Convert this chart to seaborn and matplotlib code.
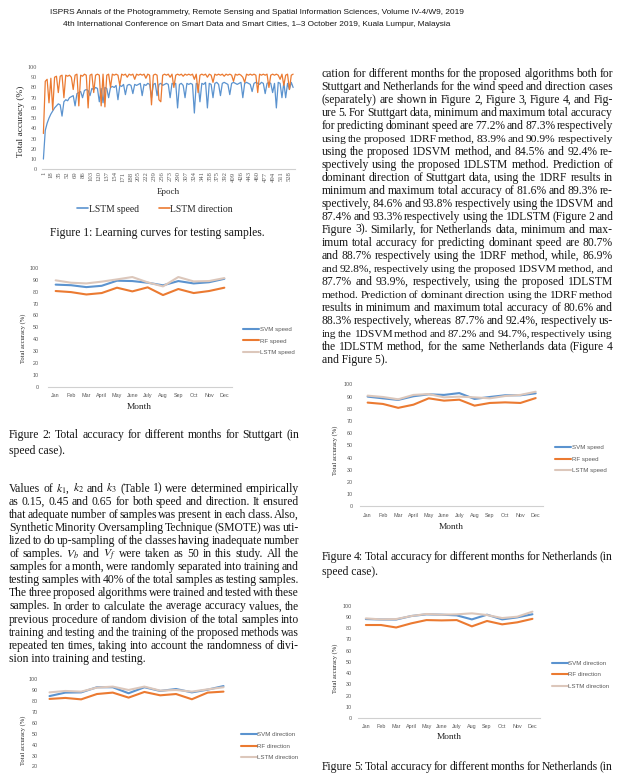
import numpy as np
import pandas as pd
import seaborn as sns
import matplotlib.pyplot as plt

sns.set_style("white")
plt.rcParams["font.family"] = ["Liberation Serif", "DejaVu Serif"]
plt.rcParams["mathtext.fontset"] = "stix"

W, H = 631, 777
SERIF = "Liberation Serif"
SANS = "Liberation Sans"
GRAY = "#595959"
BLUE, ORANGE, BEIGE = "#5B93CF", "#EB7A31", "#DCC7BB"
BODY = 8.4

# ---- data ----
months = ["Jan", "Feb", "Mar", "April", "May", "June", "July", "Aug", "Sep", "Oct", "Nov", "Dec"]

stut_speed_svm = [86, 85.5, 83.9, 85, 89.3, 89, 87.6, 85.4, 89, 87, 88, 90.9]
stut_speed_rf = [80.6, 79.7, 77.7, 78.9, 83.4, 80.3, 83.7, 77.2, 82.3, 78.9, 80.6, 83.4]
stut_speed_lstm = [89.6, 87.6, 87, 88.5, 90.4, 92.4, 87.9, 84.5, 92.4, 88.7, 89, 91.5]

stut_dir_svm = [84.6, 87.8, 88, 92.7, 92.7, 87.2, 92.7, 89.3, 91.1, 88, 90.5, 93.8]
stut_dir_rf = [82, 82.9, 81.6, 86.5, 87.8, 83.2, 88.4, 85.3, 86.5, 81.7, 87.8, 88.7]
stut_dir_lstm = [88, 89.3, 88.7, 92.4, 93.3, 90.2, 93.3, 89.6, 90.2, 88.7, 90.8, 92.7]

neth_speed_svm = [89.9, 88.5, 87.2, 90.2, 91.8, 91.3, 92.8, 88, 89.6, 91, 91, 92.6]
neth_speed_rf = [85, 83.9, 80.7, 83.3, 88.5, 86.6, 87.4, 82.5, 84.7, 85.2, 84.7, 88.7]
neth_speed_lstm = [90.7, 89.6, 87.7, 91.3, 92, 89.3, 89.9, 89.3, 88.5, 90.4, 91.3, 93.9]

neth_dir_svm = [88.1, 87.7, 87.7, 90.8, 92.3, 92, 91.4, 87.8, 92, 87.8, 89.6, 92.4]
neth_dir_rf = [82.8, 82.8, 80.6, 84.3, 87.2, 86.9, 87.2, 81.6, 86.4, 83.4, 85.2, 88.3]
neth_dir_lstm = [88.7, 87.8, 88.1, 90.8, 92.6, 92, 92.3, 93.2, 91.7, 89, 90.2, 94.7]

# learning curves, one reading every 4 epochs
epochs = np.arange(1, 538, 4)
lstm_speed_curve = [
    10, 38, 45, 50, 54, 57, 60, 62, 64, 63, 52, 66, 68, 67, 70,
    71, 72, 62, 74, 75, 76, 70, 77, 78, 77, 72, 79, 78, 80, 79,
    66, 79, 65, 80, 79, 70, 80, 81, 80, 82, 68, 82, 81, 83, 73,
    82, 83, 82, 74, 83, 82, 83, 84, 72, 83, 82, 84, 83, 70, 83,
    84, 72, 83, 84, 82, 83, 84, 83, 70, 84, 83, 84, 60, 83, 84,
    82, 70, 84, 83, 84, 83, 55, 84, 83, 66, 84, 83, 85, 60, 84,
    83, 70, 84, 85, 83, 72, 84, 85, 84, 83, 73, 84, 85, 84, 83,
    84, 85, 70, 84, 85, 84, 83, 76, 84, 85, 84, 83, 85, 84, 74,
    84, 85, 84, 75, 84, 60, 85, 84, 70, 85, 70, 84, 78, 85, 80,
]
lstm_dir_curve = [
    35, 86, 88, 65, 89, 58, 90, 91, 75, 91, 92, 70, 92, 91, 92,
    90, 78, 92, 93, 62, 92, 91, 93, 92, 60, 92, 93, 75, 92, 93,
    92, 62, 93, 61, 92, 93, 80, 93, 92, 93, 92, 82, 93, 92, 93,
    90, 93, 92, 93, 88, 93, 92, 93, 92, 93, 89, 93, 92, 63, 92,
    93, 92, 68, 66, 92, 93, 92, 93, 90, 93, 80, 92, 93, 92, 93,
    91, 93, 92, 93, 92, 93, 88, 93, 75, 92, 93, 92, 93, 90, 93,
    92, 85, 93, 92, 93, 92, 93, 91, 93, 92, 93, 92, 86, 93, 92,
    93, 92, 90, 85, 93, 92, 93, 92, 93, 92, 75, 93, 92, 93, 92,
    93, 80, 92, 93, 92, 93, 92, 88, 93, 82, 92, 93, 78, 92, 93,
]
epoch_ticks = list(range(1, 529, 17))

right_text = [
    "cation for different months for the proposed algorithms both for",
    "Stuttgart and Netherlands for the wind speed and direction cases",
    "(separately) are shown in Figure 2, Figure 3, Figure 4, and Fig-",
    "ure 5. For Stuttgart data, minimum and maximum total accuracy",
    "for predicting dominant speed are 77.2% and 87.3% respectively",
    "using the proposed 1DRF method, 83.9% and 90.9% respectively",
    "using the proposed 1DSVM method, and 84.5% and 92.4% re-",
    "spectively using the proposed 1DLSTM method. Prediction of",
    "dominant direction of Stuttgart data, using the 1DRF results in",
    "minimum and maximum total accuracy of 81.6% and 89.3% re-",
    "spectively, 84.6% and 93.8% respectively using the 1DSVM and",
    "87.4% and 93.3% respectively using the 1DLSTM (Figure 2 and",
    "Figure 3). Similarly, for Netherlands data, minimum and max-",
    "imum total accuracy for predicting dominant speed are 80.7%",
    "and 88.7% respectively using the 1DRF method, while, 86.9%",
    "and 92.8%, respectively using the proposed 1DSVM method, and",
    "87.7% and 93.9%, respectively, using the proposed 1DLSTM",
    "method. Prediction of dominant direction using the 1DRF method",
    "results in minimum and maximum total accuracy of 80.6% and",
    "88.3% respectively, whereas 87.7% and 92.4%, respectively us-",
    "ing the 1DSVM method and 87.2% and 94.7%, respectively using",
    "the 1DLSTM method, for the same Netherlands data (Figure 4",
    "and Figure 5).",
]
left_text = [
    r"Values of $k_1$, $k_2$ and $k_3$ (Table 1) were determined empirically",
    "as 0.15, 0.45 and 0.65 for both speed and direction. It ensured",
    "that adequate number of samples was present in each class. Also,",
    "Synthetic Minority Oversampling Technique (SMOTE) was uti-",
    "lized to do up-sampling of the classes having inadequate number",
    r"of samples. $V_b$ and $V_f$ were taken as 50 in this study. All the",
    "samples for a month, were randomly separated into training and",
    "testing samples with 40% of the total samples as testing samples.",
    "The three proposed algorithms were trained and tested with these",
    "samples. In order to calculate the average accuracy values, the",
    "previous procedure of random division of the total samples into",
    "training and testing and the training of the proposed methods was",
    "repeated ten times, taking into account the randomness of divi-",
    "sion into training and testing.",
]

fig = plt.figure(figsize=(W / 100, H / 100), dpi=100)
rend = fig.canvas.get_renderer()


def put(x, y, s, size, family=SERIF, **kw):
    kw.setdefault("va", "baseline")
    kw.setdefault("color", "#161616")
    return fig.text(x / W, 1 - y / H, s, fontsize=size, family=family, **kw)


def fit(t, length, vertical=False):
    bb = t.get_window_extent(rend)
    cur = bb.height if vertical else bb.width
    t.set_fontsize(t.get_fontsize() * length / cur)
    return t


def paragraph(lines, x0, x1, y0, step, size=BODY, last_full=False, min_gap=1.7):
    for k, line in enumerate(lines):
        y = y0 + k * step
        if k == len(lines) - 1 and not last_full:
            put(x0, y, line, size)
            continue
        words = line.split(" ")
        objs = [put(x0, y, w, size) for w in words]
        widths = [o.get_window_extent(rend).width for o in objs]
        gap = (x1 - x0 - sum(widths)) / (len(words) - 1)
        if gap < min_gap:
            # squeeze an over-long line a little, as TeX would
            scale = (x1 - x0 - min_gap * (len(words) - 1)) / sum(widths)
            for o in objs:
                o.set_fontsize(size * scale)
            widths = [w * scale for w in widths]
            gap = min_gap
        x = x0
        for o, wd in zip(objs, widths):
            o.set_x(x / W)
            x += wd + gap


def box(x0, y0, x1, y1):
    return fig.add_axes([x0 / W, 1 - y1 / H, (x1 - x0) / W, (y1 - y0) / H])


def clean(ax):
    for s in ["top", "right", "left"]:
        ax.spines[s].set_visible(False)
    ax.spines["bottom"].set_color("#D0D0D0")
    ax.spines["bottom"].set_linewidth(0.8)
    ax.set_ylim(0, 100)
    ax.set_yticks(range(0, 101, 10))
    ax.set_xlabel("")
    ax.set_ylabel("")
    ax.patch.set_alpha(0)


# ---- header ----
fit(put(257, 12, "ISPRS Annals of the Photogrammetry, Remote Sensing and Spatial Information Sciences, Volume IV-4/W9, 2019",
        6, SANS, ha="center", va="center"), 416)
fit(put(257, 24, "4th International Conference on Smart Data and Smart Cities, 1\u20133 October 2019, Kuala Lumpur, Malaysia",
        6, SANS, ha="center", va="center"), 390)

# ---- figure 1: learning curves ----
ax1 = box(42, 67, 295, 169.3)
curves = pd.DataFrame({
    "epoch": np.concatenate([epochs, epochs]),
    "acc": lstm_speed_curve + lstm_dir_curve,
    "series": ["LSTM speed"] * len(epochs) + ["LSTM direction"] * len(epochs),
})
sns.lineplot(data=curves, x="epoch", y="acc", hue="series", palette=[BLUE, ORANGE],
             linewidth=0.9, ax=ax1)
clean(ax1)
ax1.set_xlim(-2, 541)
ax1.set_xticks(epoch_ticks)
ax1.set_xticklabels([str(e) for e in epoch_ticks], rotation=90, family=SERIF, fontsize=4.8, color=GRAY)
ax1.set_yticklabels([str(v) for v in range(0, 101, 10)], family=SERIF, fontsize=4.5, color=GRAY)
ax1.tick_params(axis="y", length=0, pad=3.6)
ax1.tick_params(axis="x", length=0, pad=1.5)
h, l = ax1.get_legend_handles_labels()
ax1.get_legend().remove()
leg = fig.legend(h, l, loc="center", bbox_to_anchor=(155 / W, 1 - 209 / H), ncol=2, frameon=False,
                 prop={"family": SERIF, "size": 6.9}, labelcolor="#262626", handlelength=1.15,
                 handletextpad=0.05, columnspacing=2.1, borderpad=0, borderaxespad=0)
for ln in leg.get_lines():
    ln.set_linewidth(1.2)
fit(put(168.5, 192, "Epoch", 7, ha="center", va="center", color="#262626"), 23)
fit(put(20.7, 121, "Total accuracy (%)", 7, ha="center", va="center", rotation=90, color="#262626"), 72, True)
fit(put(157.5, 233, "Figure 1: Learning curves for testing samples.", BODY, ha="center", va="center"), 213)


def month_chart(rect, svm, rf, lstm, kind, ypad, legend_xy, ylab_xy, month_xy=None, yticks=range(0, 101, 10)):
    ax = box(*rect)
    df = pd.DataFrame({
        "m": np.tile(np.arange(12), 3),
        "acc": svm + rf + lstm,
        "series": [f"SVM {kind}"] * 12 + [f"RF {kind}"] * 12 + [f"LSTM {kind}"] * 12,
    })
    sns.lineplot(data=df, x="m", y="acc", hue="series", palette=[BLUE, ORANGE, BEIGE],
                 linewidth=1.5, ax=ax)
    clean(ax)
    ax.set_xlim(-0.5, 11.5)
    ax.set_yticks(list(yticks))
    ax.set_yticklabels([str(v) for v in yticks], family=SANS, fontsize=3.9, color=GRAY)
    if month_xy:
        ax.set_xticks(range(12))
        ax.set_xticklabels(months, family=SANS, fontsize=3.9, color=GRAY)
    else:
        ax.set_xticks([])
    ax.tick_params(axis="y", length=0, pad=ypad)
    ax.tick_params(axis="x", length=0, pad=4.5)
    h, l = ax.get_legend_handles_labels()
    ax.get_legend().remove()
    lg = fig.legend(h, l, loc="center left", bbox_to_anchor=(legend_xy[0] / W, 1 - legend_xy[1] / H),
                    frameon=False, prop={"family": SANS, "size": 4.4}, labelcolor=GRAY,
                    handlelength=2.6, handletextpad=0.1, labelspacing=1.05, borderpad=0, borderaxespad=0)
    for ln in lg.get_lines():
        ln.set_linewidth(1.5)
    fit(put(ylab_xy[0], ylab_xy[1], "Total accuracy (%)", 6, ha="center", va="center",
            rotation=90, color="#262626"), 50, True)
    if month_xy:
        fit(put(month_xy[0], month_xy[1], "Month", 6.5, ha="center", va="center", color="#262626"), 25)
    return ax


# figure 2 : Stuttgart speed
month_chart((48, 268, 232, 386.7), stut_speed_svm, stut_speed_rf, stut_speed_lstm, "speed",
            6.5, (243, 341), (23, 338), (139, 407))
paragraph(["Figure 2: Total accuracy for different months for Stuttgart (in", "speed case)."],
          9, 299, 438.3, 15.5)

# left body paragraph
paragraph(left_text, 9, 299, 491.6, 13.1)

# figure 3 : Stuttgart direction (cut by the page bottom)
month_chart((41.6, 679.3, 231.4, 788.3), stut_dir_svm, stut_dir_rf, stut_dir_lstm, "direction",
            2.6, (240.7, 746), (23, 740), None, range(20, 101, 10))

# right column text
paragraph(right_text, 321.7, 613, 76.6, 13.0)

# figure 4 : Netherlands speed
month_chart((360, 384.3, 543.3, 506.3), neth_speed_svm, neth_speed_rf, neth_speed_lstm, "speed",
            5.0, (555, 459), (335, 450), (451.7, 527))
paragraph(["Figure 4: Total accuracy for different months for Netherlands (in", "speed case)."],
          321.7, 612.7, 560.3, 14.3)

# figure 5 : Netherlands direction (caption runs off the page bottom)
month_chart((358.3, 605.7, 540, 718), neth_dir_svm, neth_dir_rf, neth_dir_lstm, "direction",
            4.75, (552, 674.7), (335, 668), (449.3, 737))
paragraph(["Figure 5: Total accuracy for different months for Netherlands (in"],
          321.7, 612.7, 770, 14.3, last_full=True)

fig.savefig("out.png", dpi=100)
